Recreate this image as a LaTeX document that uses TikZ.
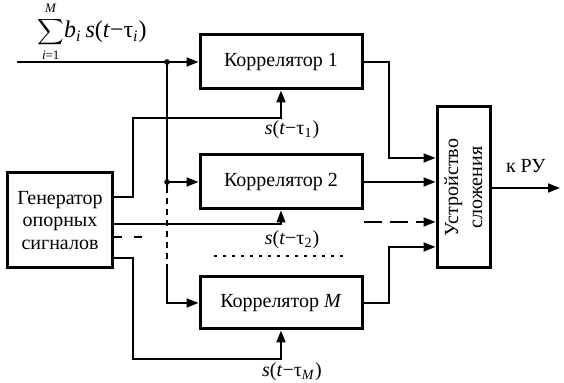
\documentclass[tikz,border=0pt]{standalone}
\usepackage{amsmath}
\usepackage{fontspec}
\setmainfont{Liberation Serif}
\usetikzlibrary{arrows.meta, calc}

\begin{document}
\begin{tikzpicture}[
  x=0.5pt, y=-0.5pt,
  blk/.style={draw, line width=1.5pt, minimum width=81pt, minimum height=27pt, inner sep=0pt, font=\fontsize{10}{12}\selectfont},
  wire/.style={line width=0.9pt},
  arr/.style={wire, -{Triangle[length=6pt,width=4.5pt]}},
  lbl/.style={inner sep=0pt, font=\fontsize{10}{12}\selectfont}
]
  \useasboundingbox (0,0) rectangle (564,383);

  % blocks
  \node[blk] (corr1) at (281,62) {Коррелятор 1};
  \node[blk] (corr2) at (281,182) {Коррелятор 2};
  \node[blk, minimum height=26pt] (corrM) at (281,303) {Коррелятор \textit{M}};
  \node[blk, minimum width=26.5pt, minimum height=80.5pt] (sum) at (463.5,187.5) {};
  \node[lbl, rotate=90, align=center] (sumtext) at (sum.center) {Устройство\\сложения};
  \node[blk, minimum width=52pt, minimum height=47.5pt, align=center, font=\fontsize{10}{11.2}\selectfont] (gen) at (60,220.5) {Генератор\\опорных\\сигналов};

  % input signal and bus
  \node[lbl, font=\fontsize{12}{13}\selectfont] (sig) at (92,32) {\renewcommand\arraystretch{0.7}\begin{tabular}{@{}c@{}}{\fontsize{6.5}{7}\selectfont\textit{M}}\\ {\fontsize{9.5}{10}\selectfont$\displaystyle\sum$}\\ {\fontsize{6.5}{7}\selectfont\textit{i}=1}\end{tabular}\textit{b}\textsubscript{\textit{i}}\,\textit{s}(\textit{t}−τ\textsubscript{\textit{i}})};
  \coordinate (in) at (17,62);
  \coordinate (j1) at (167,62);
  \coordinate (j2) at (167,182);
  \coordinate (b1) at (167,187);
  \coordinate (b2) at (167,266);
  \draw[arr] (in) -- (corr1.west);
  \draw[wire] (j1) -- (b1);
  \draw[wire, dash pattern=on 3pt off 2.5pt] (b1) -- (b2);
  \draw[arr] (b2) |- (corrM.west);
  \draw[arr] (j2) -- (corr2.west);
  \fill (j1) circle (1.4pt);
  \fill (j2) circle (1.4pt);

  % reference signals
  \draw[arr] (gen.east |- 0,197) -| (133,118) -| (corr1.south);
  \draw[arr, line width=0.6pt] (gen.east |- 0,224) -| (corr2.south);
  \draw[wire, dash pattern=on 4pt off 6pt] (gen.east |- 0,237) -- (142,237);
  \draw[arr] (gen.east |- 0,258) -| (133,359) -| (corrM.south);
  \node[lbl] (ref1) at (292,130) {\textit{s}(\textit{t}−τ\textsubscript{1})};
  \node[lbl] (ref2) at (292,240) {\textit{s}(\textit{t}−τ\textsubscript{2})};
  \node[lbl] (refM) at (292,372) {\textit{s}(\textit{t}−τ\textsubscript{\textit{M}})};
  \draw[line width=1.1pt, dash pattern=on 1.5pt off 3pt] (214,256) -- (343,256);

  % to the adder
  \draw[arr] (corr1.east) -| (389,158) -- (sum.west |- 0,158);
  \draw[arr] (corr2.east) -- (sum.west |- corr2.east);
  \draw[arr, dash pattern=on 9pt off 4pt] (corr2.east |- 0,222) -- (sum.west |- 0,222);
  \draw[arr] (corrM.east) -| (389,247) -- (sum.west |- 0,247);
  \coordinate (out) at (560,188);
  \draw[arr] (sum.east |- out) -- (out) node[lbl, midway, above=7pt] {к РУ};
\end{tikzpicture}
\end{document}
